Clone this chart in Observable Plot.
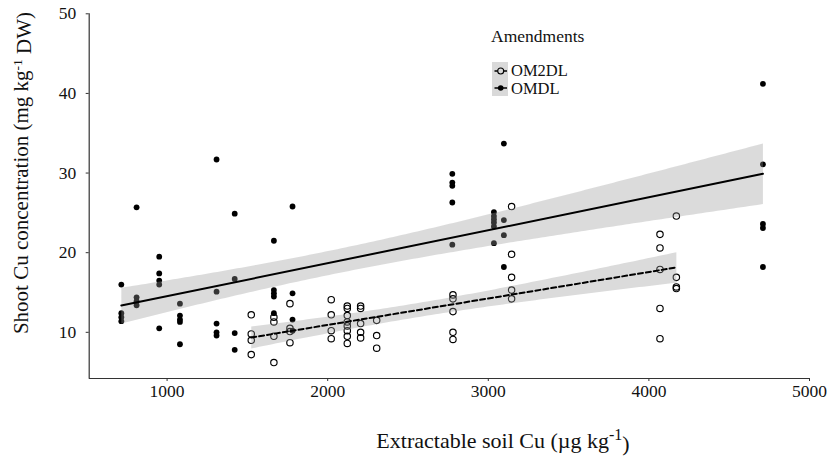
<!DOCTYPE html>
<html><head><meta charset="utf-8">
<script src="https://cdn.jsdelivr.net/npm/d3@7"></script>
<script src="https://cdn.jsdelivr.net/npm/@observablehq/plot@0.6"></script>
<style>
body{margin:0;background:#fff;}
#wrap{width:835px;height:464px;}
</style></head><body><div id="wrap"></div>
<script>
// Tick labels
const xTicks = [1000, 2000, 3000, 4000, 5000];
const yTicks = [10, 20, 30, 40, 50];

// OMDL (filled)
const omdlSoilCu = [715,715,715,715, 810,810,810,810, 951,951,951,951,951,
  1080,1080,1080,1080,1080, 1308,1308,1308,1308,1308, 1421,1421,1421,1421,
  1665,1665,1665,1665,1665, 1781,1781,1781,1781, 2776,2776,2776,2776,2776,
  3035,3035,3035,3035,3035,3035, 3097,3097,3097,3097, 4710,4710,4710,4710,4710];
const omdlShootCu = [16.0,12.4,11.9,11.4, 25.7,14.4,13.9,13.4, 19.5,17.4,16.5,16.0,10.5,
  13.6,12.1,11.6,11.3,8.5, 31.7,15.1,11.1,10.0,9.6, 24.9,16.7,9.9,7.8,
  21.5,15.3,14.9,14.5,12.4, 25.8,14.9,11.6,10.2, 29.9,28.8,28.4,26.3,21.0,
  25.1,24.6,24.2,23.8,23.3,21.2, 33.7,24.1,22.2,18.2, 41.2,31.1,23.6,23.1,18.2];

// OM2DL (open)
const om2dlSoilCu = [1524,1524,1524,1524, 1665,1665,1665,1665, 1765,1765,1765,1765,
  2022,2022,2022,2022, 2122,2122,2122,2122,2122,2122,2122,2122, 2205,2205,2205,2205,2205,
  2305,2305,2305, 2780,2780,2780,2780,2780, 3145,3145,3145,3145,3145,
  4069,4069,4069,4069,4069, 4171,4171,4171,4171];
const om2dlShootCu = [12.2,9.8,9.0,7.2, 11.9,11.3,9.5,6.2, 13.6,10.5,10.1,8.7,
  14.1,12.2,10.2,9.2, 13.3,13.0,12.1,11.3,10.8,10.2,9.5,8.6, 13.3,13.0,11.1,10.0,9.3,
  11.5,9.6,8.0, 14.7,14.2,12.6,10.0,9.1, 25.8,19.8,16.9,15.3,14.2,
  22.3,20.6,17.9,13.0,9.2, 24.6,16.9,15.7,15.5];

const omdl = omdlSoilCu.map((x, i) => ({x, y: omdlShootCu[i]}));
const om2dl = om2dlSoilCu.map((x, i) => ({x, y: om2dlShootCu[i]}));

const xMin = 515, yMin = 4.2;

const chart = Plot.plot({
  width: 835, height: 464,
  marginLeft: 88.7, marginRight: 26, marginTop: 13.3, marginBottom: 86,
  x: {domain: [xMin, 5000]},
  y: {domain: [yMin, 50]},
  style: {fontFamily: "'Liberation Serif', 'Times New Roman', serif", fontSize: "17.5px", color: "#111", background: "white"},
  marks: [
    Plot.ruleY([yMin], {stroke: "#333", strokeWidth: 1.2}),
    Plot.ruleX([xMin], {stroke: "#333", strokeWidth: 1.2}),
    Plot.axisX({ticks: xTicks, tickSize: 3, tickPadding: 3, tickFormat: d => String(d), label: null, stroke: "#333"}),
    Plot.axisY({ticks: yTicks, tickSize: 3, tickPadding: 10, label: null, stroke: "#333"}),
    Plot.dot(om2dl, {x: "x", y: "y", r: 3.2, stroke: "black", strokeWidth: 1.15, fill: "none"}),
    Plot.dot(omdl, {x: "x", y: "y", r: 2.9, fill: "black", stroke: "none"}),
    Plot.linearRegressionY(omdl, {x: "x", y: "y", stroke: "black", strokeWidth: 2, fill: "#999", fillOpacity: 0.35}),
    Plot.linearRegressionY(om2dl, {x: "x", y: "y", stroke: "black", strokeWidth: 2, strokeDasharray: "5,3", fill: "#999", fillOpacity: 0.35})
  ]
});

const svg = d3.select(chart);
const font = "'Liberation Serif', 'Times New Roman', serif";

// Y axis title
const yt = svg.append("text")
  .attr("transform", "translate(28,173) rotate(-90)")
  .attr("text-anchor", "middle")
  .attr("font-family", font).attr("font-size", "21px").attr("fill", "#111");
yt.append("tspan").text("Shoot Cu concentration (mg kg");
yt.append("tspan").attr("dy", "-0.45em").attr("font-size", "13.5px").text("-1");
yt.append("tspan").attr("dy", "0.45em").text(" DW)");

// X axis title
const xt = svg.append("text")
  .attr("x", 503).attr("y", 448)
  .attr("text-anchor", "middle")
  .attr("font-family", font).attr("font-size", "22px").attr("fill", "#111");
xt.append("tspan").text("Extractable soil Cu (\u00b5g kg");
xt.append("tspan").attr("dy", "-0.5em").attr("font-size", "16px").text("-1");
xt.append("tspan").attr("dy", "0.5em").text(")");

// Legend
const lg = svg.append("g").attr("font-family", font).attr("fill", "#111").attr("text-anchor", "start");
lg.append("text").attr("x", 491).attr("y", 41.5).attr("font-size", "17.5px").text("Amendments");
lg.append("rect").attr("x", 492).attr("y", 62).attr("width", 16).attr("height", 34).attr("fill", "#d9d9d9");
lg.append("line").attr("x1", 494.5).attr("x2", 507).attr("y1", 71).attr("y2", 71).attr("stroke", "black").attr("stroke-width", 1.5);
lg.append("circle").attr("cx", 500.7).attr("cy", 71).attr("r", 3).attr("fill", "#d9d9d9").attr("stroke", "black").attr("stroke-width", 1.1);
lg.append("line").attr("x1", 494.5).attr("x2", 507).attr("y1", 88).attr("y2", 88).attr("stroke", "black").attr("stroke-width", 1.5);
lg.append("circle").attr("cx", 500.7).attr("cy", 88).attr("r", 2.8).attr("fill", "black");
lg.append("text").attr("x", 511).attr("y", 75.5).attr("font-size", "16.5px").text("OM2DL");
lg.append("text").attr("x", 511).attr("y", 94).attr("font-size", "16.5px").text("OMDL");

document.getElementById("wrap").appendChild(chart);
</script>
</body></html>
